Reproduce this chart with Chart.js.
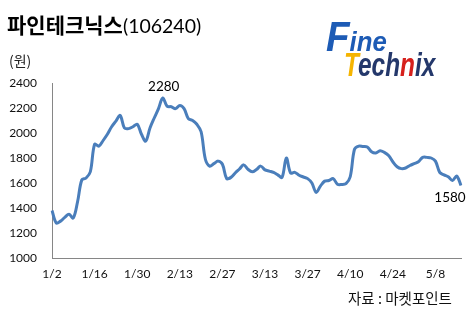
<!DOCTYPE html>
<html>
<head>
<meta charset="utf-8">
<script src="https://cdn.jsdelivr.net/npm/chart.js@4.4.1/dist/chart.umd.min.js"></script>
<style>
  html, body { margin: 0; padding: 0; background: #fff; }
  #wrap { position: relative; width: 471px; height: 315px; overflow: hidden; }
  #chart { position: absolute; left: 0; top: 0; }
  .txt { position: absolute; white-space: nowrap; color: #000; }
  #title { left: 7px; top: 12px; font: bold 21px "Noto Sans CJK KR"; line-height: 25px; }
  #title span { font: 19.5px Lato; }
  #unit { left: 9px; top: 51px; font: 14px "Noto Sans CJK KR"; line-height: 18px; color: #222; }
  #source { left: 348px; top: 288px; font: 14.5px "Noto Sans CJK KR"; line-height: 19px; color: #111; }
  .logo { position: absolute; white-space: nowrap; font-family: "Liberation Sans"; font-weight: bold; font-style: italic; transform-origin: left top; }
  #logo1 { left: 326px; top: 14px; color: #1d5bb5; font-size: 42px; line-height: 46px; transform: scaleX(0.92); }
  #logo1 span { font-size: 28px; }
  #logo2 { left: 344px; top: 46px; color: #24386b; font-size: 33px; line-height: 38px; transform: scaleX(0.74); }
</style>
</head>
<body>
<div id="wrap">
  <canvas id="chart" width="471" height="315"></canvas>
  <div class="txt" id="title">파인테크닉스<span>(106240)</span></div>
  <div class="txt" id="unit">(원)</div>
  <div class="txt" id="source">자료 : 마켓포인트</div>
  <div class="logo" id="logo1">F<span>ine</span></div>
  <div class="logo" id="logo2"><span style="color:#f5b400">T</span>ech<span style="color:#d6201c">n</span>ix</div>
</div>
<script>
// 일별 종가 (원), 1/2 ~ 5/14
const prices = [
  1380, 1280, 1295, 1325, 1350, 1320, 1450, 1625, 1640, 1690,
  1910, 1895, 1940, 1990, 2050, 2095, 2140, 2040, 2035, 2050,
  2070, 1990, 1935, 2040, 2120, 2195, 2280, 2215, 2210, 2195,
  2220, 2195, 2115, 2100, 2070, 2010, 1790, 1735, 1755, 1775,
  1750, 1635, 1645, 1680, 1712, 1745, 1710, 1690, 1708, 1735,
  1705, 1695, 1685, 1665, 1645, 1800, 1680, 1685, 1662, 1648,
  1635, 1600, 1525, 1575, 1615, 1620, 1635, 1590, 1588, 1595,
  1650, 1870, 1895, 1892, 1888, 1850, 1840, 1858, 1845, 1820,
  1770, 1730, 1715, 1720, 1740, 1755, 1770, 1805, 1805, 1800,
  1775, 1685, 1665, 1650, 1620, 1655, 1580
];
const tickLabels = ['1/2', '1/16', '1/30', '2/13', '2/27', '3/13', '3/27', '4/10', '4/24', '5/8'];
const tickEvery = 10;
const yMin = 1000, yMax = 2400, yStep = 200;

const labels = prices.map((_, i) => i % tickEvery === 0 ? (tickLabels[i / tickEvery] || '') : '');

// 최고점, 마지막 값 표시
const valueLabels = {
  id: 'valueLabels',
  afterDatasetsDraw(chart) {
    const ctx = chart.ctx;
    const meta = chart.getDatasetMeta(0);
    const maxIdx = prices.indexOf(Math.max(...prices));
    const lastIdx = prices.length - 1;
    ctx.save();
    ctx.font = '13.5px Lato';
    ctx.fillStyle = '#000';
    ctx.textAlign = 'center';
    ctx.textBaseline = 'middle';
    const pMax = meta.data[maxIdx];
    ctx.fillText(String(prices[maxIdx]), pMax.x + 1, pMax.y - 11);
    const pLast = meta.data[lastIdx];
    ctx.fillText(String(prices[lastIdx]), pLast.x - 11, pLast.y + 12);
    ctx.restore();
  }
};

new Chart(document.getElementById('chart'), {
  type: 'line',
  data: {
    labels: labels,
    datasets: [{
      data: prices,
      borderColor: '#4a7ebb',
      borderWidth: 3,
      pointRadius: 0,
      tension: 0.35,
      fill: false
    }]
  },
  options: {
    responsive: false,
    animation: false,
    layout: { padding: { left: 0, top: 83, right: 10, bottom: 0 } },
    plugins: { legend: { display: false }, tooltip: { enabled: false } },
    scales: {
      x: {
        offset: false,
        grid: { display: false, drawTicks: false },
        border: { display: true, color: '#868686', width: 1 },
        ticks: {
          autoSkip: false, maxRotation: 0, minRotation: 0, padding: 9,
          color: '#111', font: { family: 'Lato', size: 12 }
        },
        afterFit: s => { s.height = 57; }
      },
      y: {
        min: yMin, max: yMax,
        grid: { display: false, drawTicks: false },
        border: { display: true, color: '#868686', width: 1 },
        ticks: {
          stepSize: yStep, padding: 15,
          color: '#111', font: { family: 'Lato', size: 12 },
          callback: v => String(v)
        },
        afterFit: s => { s.width = 52; }
      }
    }
  },
  plugins: [valueLabels]
});
</script>
</body>
</html>
